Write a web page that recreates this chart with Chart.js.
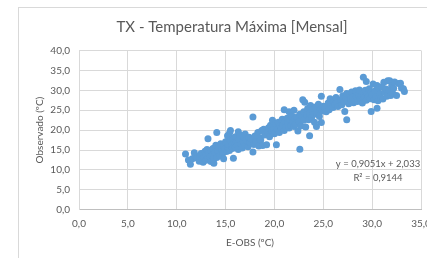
<!DOCTYPE html>
<html>
<head>
<meta charset="utf-8">
<script src="https://cdn.jsdelivr.net/npm/chart.js@4"></script>
<style>
  html, body { margin: 0; padding: 0; background: #ffffff; overflow: hidden; width: 427px; height: 258px; }
  #wrap { position: absolute; left: 0; top: 0; width: 464px; height: 258px; }
  #frame { position: absolute; left: 18px; top: 7px; width: 428px; height: 262px; border: 1px solid #d9d9d9; box-sizing: border-box; pointer-events: none; }
  canvas { position: absolute; left: 0; top: 0; }
</style>
</head>
<body>
<div id="wrap">
  <canvas id="c" width="464" height="258"></canvas>
  <div id="frame"></div>
</div>
<script>
const chartTitle = "TX - Temperatura Máxima [Mensal]";
const xTitle = "E-OBS (ºC)";
const yTitle = "Observado (ºC)";
const trendLine1 = "y = 0,9051x + 2,033";
const trendLine2 = "R² = 0,9144";

const eobs = [
  10.9,11.2,11.4,11.6,11.8,11.9,12.1,12.3,12.4,12.5,12.6,12.7,12.8,12.9,13.0,13.0,13.1,13.2,13.2,13.3,13.4,13.5,13.5,13.6,13.7,13.8,13.8,13.9,14.0,14.1,14.1,
  14.2,14.3,14.4,14.5,14.6,14.7,14.8,14.8,14.9,15.0,15.1,15.2,15.2,15.3,15.4,15.4,15.5,15.5,15.6,15.7,15.8,15.8,15.9,16.0,16.0,16.1,16.2,16.3,16.3,16.4,16.5,16.6,16.7,16.8,16.9,17.0,17.0,
  17.1,17.3,17.4,17.5,17.6,17.8,17.8,17.9,18.0,18.1,18.3,18.4,18.5,18.6,18.7,18.8,18.9,19.0,19.2,19.3,19.4,19.5,19.6,19.7,19.8,19.9,20.0,20.1,20.2,
  20.3,20.4,20.5,20.6,20.7,20.8,20.9,21.0,21.0,21.1,21.2,21.3,21.4,21.5,21.5,21.6,21.7,21.8,21.9,22.0,22.0,22.1,22.2,22.3,22.4,22.5,22.6,22.6,22.7,22.8,22.9,23.0,23.0,23.1,23.2,
  23.3,23.4,23.5,23.6,23.6,23.7,23.8,23.9,24.0,24.1,24.2,24.3,24.3,24.5,24.6,24.7,24.8,24.8,24.9,25.0,25.2,25.3,25.5,25.6,25.7,25.8,26.0,26.1,26.2,26.3,
  26.4,26.5,26.7,26.8,26.9,27.0,27.1,27.2,27.3,27.4,27.4,27.5,27.6,27.7,27.8,27.9,28.0,28.1,28.2,28.3,28.4,28.5,28.6,28.7,28.8,28.9,29.0,29.1,29.1,29.2,29.3,29.4,29.4,29.5,29.6,29.7,29.8,29.9,29.9,30.0,
  30.1,30.2,30.3,30.4,30.5,30.5,30.6,30.7,30.8,30.9,31.0,31.1,31.2,31.3,31.4,31.5,31.6,31.7,31.8,31.9,32.0,32.1,32.2,32.3,32.5,32.7,32.9,33.0,33.2,33.3
];
const observed = [
  14.0,12.5,11.4,12.8,14.3,13.5,13.0,12.2,13.6,14.1,12.6,11.9,13.2,14.7,12.4,13.8,15.1,17.8,12.9,14.2,13.3,12.1,14.9,13.6,15.4,11.7,12.8,14.4,16.2,19.4,13.1,
  14.8,15.6,13.5,16.6,15.0,14.2,12.8,16.0,15.2,17.1,14.6,18.6,15.8,16.4,19.2,14.9,19.9,17.5,16.1,15.4,12.9,17.9,16.8,15.6,18.3,17.0,16.2,19.6,15.1,17.6,18.8,16.5,15.5,17.2,18.1,16.0,19.0,
  17.4,15.8,18.2,16.9,17.8,14.5,23.3,16.4,18.5,17.1,19.4,16.0,18.0,17.5,19.9,16.1,20.2,18.8,16.3,19.5,20.6,18.3,21.2,19.8,22.5,20.4,19.1,21.6,16.3,
  20.1,22.0,19.4,21.1,20.6,22.7,21.3,25.1,19.9,22.1,20.8,23.0,21.7,24.6,20.5,22.4,21.2,23.5,22.0,25.0,20.9,22.8,21.5,23.2,19.8,22.1,15.2,24.0,21.0,23.6,27.6,22.5,24.6,27.0,20.8,
  23.8,25.4,22.6,18.6,24.3,26.2,23.1,25.0,23.9,22.0,25.8,20.9,24.4,26.5,23.4,25.2,28.5,21.9,24.8,26.0,25.5,24.6,26.8,25.1,27.9,26.3,25.7,27.2,26.5,28.2,
  26.9,25.9,30.2,27.6,26.4,28.6,27.1,24.7,28.1,22.6,29.2,27.5,26.6,28.9,27.8,29.6,28.3,26.9,27.4,29.9,28.5,27.2,28.9,30.1,27.8,28.6,26.8,33.3,29.3,28.2,30.0,32.2,27.5,29.1,28.4,30.4,27.9,24.7,29.5,28.8,
  31.6,27.6,29.8,28.3,25.5,31.2,27.4,30.6,29.1,28.0,30.9,27.8,32.0,29.5,30.3,28.5,32.4,30.0,32.4,28.7,31.1,29.2,30.5,32.1,28.7,31.7,31.8,30.6,30.4,29.7
];
const xTicks = { min: 0, max: 35, step: 5 };
const yTicks = { min: 0, max: 40, step: 5 };

const points = eobs.map((x, i) => ({ x: x, y: observed[i] }));
const fmt = v => Number(v).toFixed(1).replace('.', ',');
const FONT = "Lato, 'Open Sans', sans-serif";
const GREY = '#595959';

const labels = {
  id: 'labels',
  afterDraw(chart) {
    const { ctx, scales } = chart;
    ctx.save();
    ctx.fillStyle = GREY;
    ctx.textAlign = 'center';
    ctx.textBaseline = 'middle';
    ctx.font = '15px ' + FONT;
    ctx.fillText(chartTitle, 232, 27);
    ctx.font = '9.5px ' + FONT;
    const cx = scales.x.getPixelForValue(30.6);
    ctx.fillText(trendLine1, cx, scales.y.getPixelForValue(11.6));
    ctx.fillText(trendLine2, cx, scales.y.getPixelForValue(8.1));
    ctx.restore();
  }
};

new Chart(document.getElementById('c'), {
  type: 'scatter',
  data: {
    datasets: [{
      data: points,
      backgroundColor: '#5B9BD5',
      borderColor: '#5B9BD5',
      borderWidth: 0,
      pointRadius: 3.5,
      pointHoverRadius: 3.5
    }]
  },
  options: {
    responsive: false,
    animation: false,
    devicePixelRatio: 1,
    layout: { padding: { left: 0, right: 43, top: 50.5, bottom: 0 } },
    plugins: {
      legend: { display: false },
      tooltip: { enabled: false },
      title: { display: false }
    },
    scales: {
      x: {
        type: 'linear',
        min: xTicks.min, max: xTicks.max,
        afterFit(s) { s.height = 48.3; },
        ticks: { stepSize: xTicks.step, color: GREY, font: { family: FONT, size: 10 }, padding: 8, callback: fmt, maxRotation: 0 },
        grid: { color: '#d9d9d9', drawTicks: false },
        border: { color: '#bfbfbf' },
        title: { display: true, text: xTitle, color: GREY, font: { family: FONT, size: 10 }, padding: { top: 0, bottom: 9 } }
      },
      y: {
        type: 'linear',
        min: yTicks.min, max: yTicks.max,
        afterFit(s) { s.width = 79; },
        ticks: { stepSize: yTicks.step, color: GREY, font: { family: FONT, size: 10 }, padding: 9, callback: fmt },
        grid: { color: '#d9d9d9', drawTicks: false },
        border: { color: '#d9d9d9' },
        title: { display: true, text: yTitle, color: GREY, font: { family: FONT, size: 10 }, padding: { top: 34, bottom: 0 } }
      }
    }
  },
  plugins: [labels]
});
</script>
</body>
</html>
